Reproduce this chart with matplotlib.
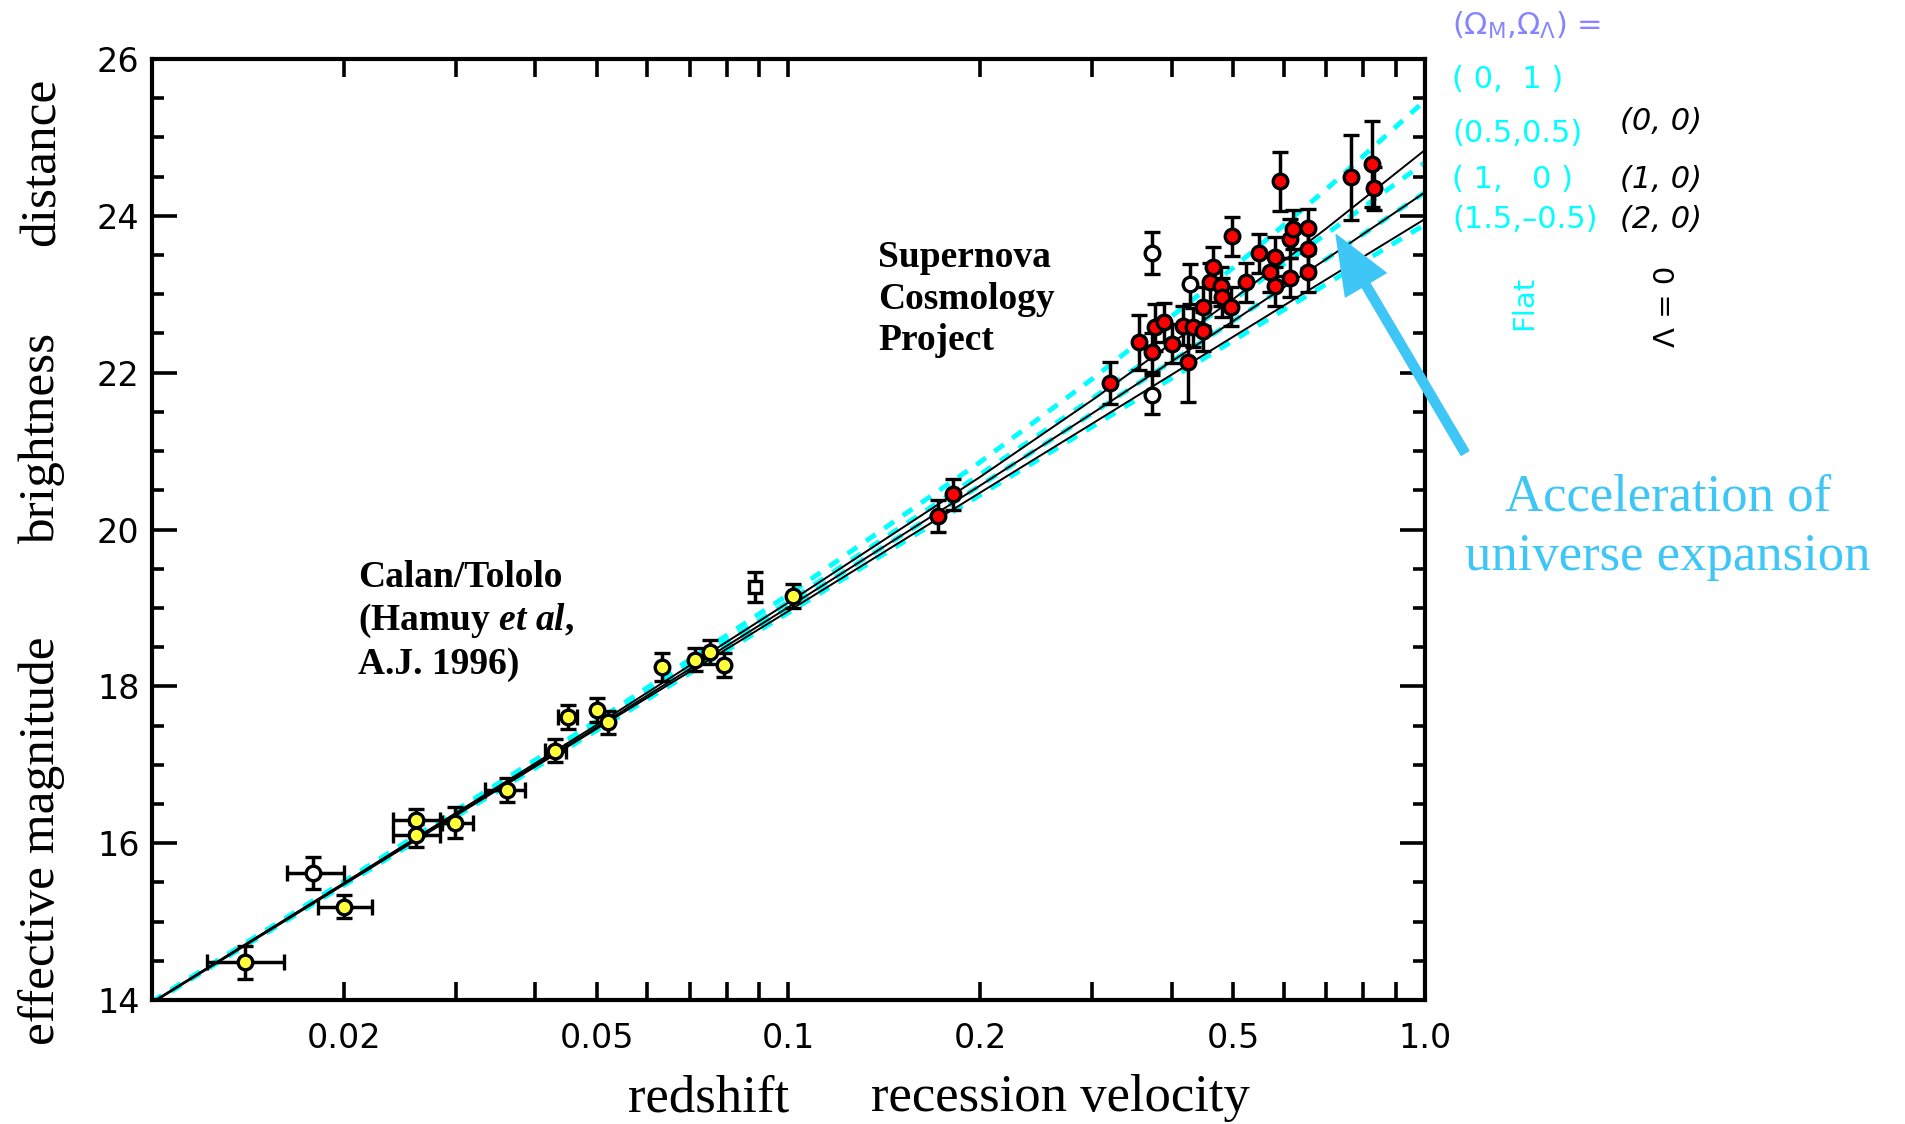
import matplotlib

matplotlib.use("Agg")
import matplotlib.pyplot as plt
from matplotlib.ticker import FixedLocator, FixedFormatter, MultipleLocator, NullFormatter

plt.rcParams["mathtext.fontset"] = "custom"
plt.rcParams["mathtext.rm"] = "DejaVu Sans"
plt.rcParams["mathtext.it"] = "Liberation Serif:italic:bold"

# ---- model curves ----
z_model = [0.01, 0.02, 0.05, 0.1, 0.2, 0.3, 0.5, 0.7, 1.0]
m_flat_0_1 = [13.98, 15.51, 17.56, 19.17, 20.86, 21.92, 23.34, 24.34, 25.47]
m_flat_05_05 = [13.97, 15.49, 17.52, 19.08, 20.70, 21.67, 22.93, 23.77, 24.68]
m_flat_1_0 = [13.97, 15.48, 17.48, 19.01, 20.56, 21.48, 22.66, 23.45, 24.30]
m_flat_15_m05 = [13.96, 15.46, 17.44, 18.94, 20.44, 21.31, 22.41, 23.13, 23.89]
m_lam0_0_0 = [13.97, 15.49, 17.51, 19.07, 20.67, 21.65, 22.94, 23.84, 24.84]
m_lam0_1_0 = [13.97, 15.48, 17.48, 19.01, 20.56, 21.48, 22.66, 23.45, 24.30]
m_lam0_2_0 = [13.96, 15.47, 17.46, 18.96, 20.47, 21.35, 22.46, 23.19, 23.96]

# ---- Calan/Tololo supernovae ----
ct_z = [0.0140, 0.0200, 0.0260, 0.0260, 0.0299, 0.0361, 0.0430, 0.0450,
        0.0500, 0.0520, 0.0632, 0.0712, 0.0752, 0.0791, 0.1015]
ct_m = [14.48, 15.19, 16.29, 16.10, 16.26, 16.68, 17.18, 17.61,
        17.70, 17.54, 18.25, 18.34, 18.44, 18.27, 19.15]
ct_merr = [0.21, 0.15, 0.15, 0.15, 0.20, 0.15, 0.15, 0.15,
           0.15, 0.15, 0.18, 0.15, 0.15, 0.15, 0.15]
ct_zlo = [0.0122, 0.0182, 0.0239, 0.0239, 0.0286, 0.0334, 0.0415, 0.0435,
          0.0500, 0.0520, 0.0632, 0.0712, 0.0752, 0.0791, 0.1015]
ct_zhi = [0.0161, 0.0222, 0.0283, 0.0283, 0.0319, 0.0385, 0.0447, 0.0465,
          0.0500, 0.0520, 0.0632, 0.0712, 0.0752, 0.0791, 0.1015]

# excluded low-z objects
ct_open_z = [0.0179]
ct_open_m = [15.62]
ct_open_merr = [0.20]
ct_open_zlo = [0.0163]
ct_open_zhi = [0.0200]
ct_sq_z = [0.0885]
ct_sq_m = [19.27]
ct_sq_merr = [0.19]

# ---- Supernova Cosmology Project ----
scp_z = [0.172, 0.181, 0.320, 0.356, 0.373, 0.377, 0.389, 0.401, 0.416, 0.425,
         0.432, 0.448, 0.448, 0.460, 0.465, 0.478, 0.480, 0.496, 0.498, 0.524,
         0.549, 0.571, 0.581, 0.581, 0.592, 0.614, 0.614, 0.621, 0.655, 0.655,
         0.655, 0.765, 0.826, 0.832]
scp_m = [20.17, 20.45, 21.87, 22.39, 22.26, 22.58, 22.64, 22.37, 22.60, 22.13,
         22.58, 22.53, 22.84, 23.15, 23.35, 23.10, 22.96, 22.84, 23.74, 23.15,
         23.52, 23.28, 23.48, 23.10, 24.44, 23.71, 23.21, 23.83, 23.84, 23.58,
         23.28, 24.49, 24.66, 24.35]
scp_merr = [0.20, 0.20, 0.27, 0.35, 0.25, 0.30, 0.25, 0.25, 0.25, 0.50,
            0.25, 0.25, 0.25, 0.25, 0.25, 0.25, 0.25, 0.25, 0.25, 0.25,
            0.25, 0.25, 0.25, 0.25, 0.38, 0.25, 0.25, 0.25, 0.25, 0.25,
            0.25, 0.54, 0.55, 0.27]
scp_open_z = [0.373, 0.373, 0.428]
scp_open_m = [21.72, 23.53, 23.13]
scp_open_merr = [0.25, 0.27, 0.25]

x_ticklabels = ["0.02", "0.05", "0.1", "0.2", "0.5", "1.0"]
x_major = [0.02, 0.05, 0.1, 0.2, 0.5, 1.0]
x_minor = [0.03, 0.04, 0.06, 0.07, 0.08, 0.09, 0.3, 0.4, 0.6, 0.7, 0.8, 0.9]

CYAN = "#00ffff"
SKY = "#3ec6f6"
W, H = 1906, 1124

fig = plt.figure(figsize=(W / 100, H / 100), dpi=100)
ax = fig.add_axes([152 / W, 1 - 1000 / H, (1425 - 152) / W, (1000 - 59) / H])
ax.set_xscale("log")

# cyan flat-universe curves
for m in (m_flat_0_1, m_flat_05_05, m_flat_1_0, m_flat_15_m05):
    ax.plot(z_model, m, color=CYAN, lw=3.5, ls=(0, (2.4, 2.2)), zorder=2)
# black Lambda = 0 curves
for m in (m_lam0_0_0, m_lam0_1_0, m_lam0_2_0):
    ax.plot(z_model, m, color="black", lw=1.4, zorder=3)

eb = dict(ecolor="black", elinewidth=2.5, capsize=6, capthick=2.8, ls="none", zorder=4)
ct_xerr = [[z - lo for z, lo in zip(ct_z, ct_zlo)], [hi - z for z, hi in zip(ct_z, ct_zhi)]]
ax.errorbar(ct_z, ct_m, yerr=ct_merr, xerr=ct_xerr, marker="o", ms=10.5,
            mfc="#ffff3a", mec="black", mew=2.4, **eb)
op_xerr = [[z - lo for z, lo in zip(ct_open_z, ct_open_zlo)],
           [hi - z for z, hi in zip(ct_open_z, ct_open_zhi)]]
ax.errorbar(ct_open_z, ct_open_m, yerr=ct_open_merr, xerr=op_xerr, marker="o", ms=10.5,
            mfc="white", mec="black", mew=2.4, **eb)
ax.errorbar(ct_sq_z, ct_sq_m, yerr=ct_sq_merr, marker="s", ms=9,
            mfc="white", mec="black", mew=2.4, **eb)
ax.errorbar(scp_z, scp_m, yerr=scp_merr, marker="o", ms=10.5,
            mfc="#ff0000", mec="black", mew=2.4, **eb)
ax.errorbar(scp_open_z, scp_open_m, yerr=scp_open_merr, marker="o", ms=10.5,
            mfc="white", mec="black", mew=2.4, **eb)

ax.set_xlim(0.01, 1.0)
ax.set_ylim(14, 26)
ax.xaxis.set_major_locator(FixedLocator(x_major))
ax.xaxis.set_major_formatter(FixedFormatter(x_ticklabels))
ax.xaxis.set_minor_locator(FixedLocator(x_minor))
ax.xaxis.set_minor_formatter(NullFormatter())
ax.yaxis.set_major_locator(MultipleLocator(2))
ax.yaxis.set_minor_locator(MultipleLocator(0.5))
ax.tick_params(which="both", direction="in", top=True, right=True, width=2.6, colors="black")
ax.tick_params(axis="x", which="both", length=13, pad=16, labelsize=24)
ax.tick_params(axis="y", which="major", length=18, pad=9, labelsize=24)
ax.tick_params(axis="y", which="minor", length=8.5)
for lab in ax.get_xticklabels() + ax.get_yticklabels():
    lab.set_fontfamily("DejaVu Sans")
for sp in ax.spines.values():
    sp.set_linewidth(3)


def ftext(x, y, s, **kw):
    return fig.text(x / W, 1 - y / H, s, **kw)


# axis titles
serif = "Liberation Serif"
ftext(42, 841, "effective magnitude", rotation=90, ha="center", va="center", family=serif, fontsize=37)
ftext(42, 438, "brightness", rotation=90, ha="center", va="center", family=serif, fontsize=37)
ftext(42, 162, "distance", rotation=90, ha="center", va="center", family=serif, fontsize=37)
ftext(709, 1098, "redshift", ha="center", va="center", family=serif, fontsize=38)
ftext(1060, 1098, "recession velocity", ha="center", va="center", family=serif, fontsize=38)

# data set labels
ftext(878, 240, "Supernova\nCosmology\nProject", ha="left", va="top", family=serif,
      fontweight="bold", fontsize=27, linespacing=1.25)
ftext(358, 560, "Calan/Tololo\n(Hamuy $\\mathit{et}$ $\\mathit{al}$,\nA.J. 1996)", ha="left", va="top",
      family=serif, fontweight="bold", fontsize=27, linespacing=1.25)

# model key
ftext(1452, 25, "$(\\Omega_{\\mathrm{M}}{,}\\Omega_{\\Lambda})$ =", ha="left", va="center",
      color="#8585ff", fontsize=22)
ftext(1452, 80, "( 0,  1 )", ha="left", va="center", color=CYAN, fontsize=22)
ftext(1452, 134, "(0.5,0.5)", ha="left", va="center", color=CYAN, fontsize=22)
ftext(1452, 179, "( 1,   0 )", ha="left", va="center", color=CYAN, fontsize=22)
ftext(1452, 220, "(1.5,\u20130.5)", ha="left", va="center", color=CYAN, fontsize=22)
ftext(1620, 122, "(0, 0)", ha="left", va="center", color="black", style="italic", fontsize=22)
ftext(1620, 179, "(1, 0)", ha="left", va="center", color="black", style="italic", fontsize=22)
ftext(1620, 220, "(2, 0)", ha="left", va="center", color="black", style="italic", fontsize=22)
ftext(1524, 303, "Flat", rotation=90, ha="center", va="center", color=CYAN, fontsize=21)
ftext(1667, 306, "\u039b = 0", rotation=90, ha="center", va="center", color="black", fontsize=21)

# acceleration arrow and note
ax.annotate("", xy=(0.725, 23.76), xycoords="data", xytext=(1465, H - 453),
            textcoords="figure pixels", annotation_clip=False,
            arrowprops=dict(facecolor=SKY, edgecolor=SKY, width=6.5, headwidth=34,
                            headlength=42, shrink=0))
ftext(1668, 527, "Acceleration of\nuniverse expansion", ha="center", va="center",
      multialignment="center", color=SKY, family=serif, fontsize=38, linespacing=1.3)

fig.savefig("out.png", dpi=100, facecolor="white")
